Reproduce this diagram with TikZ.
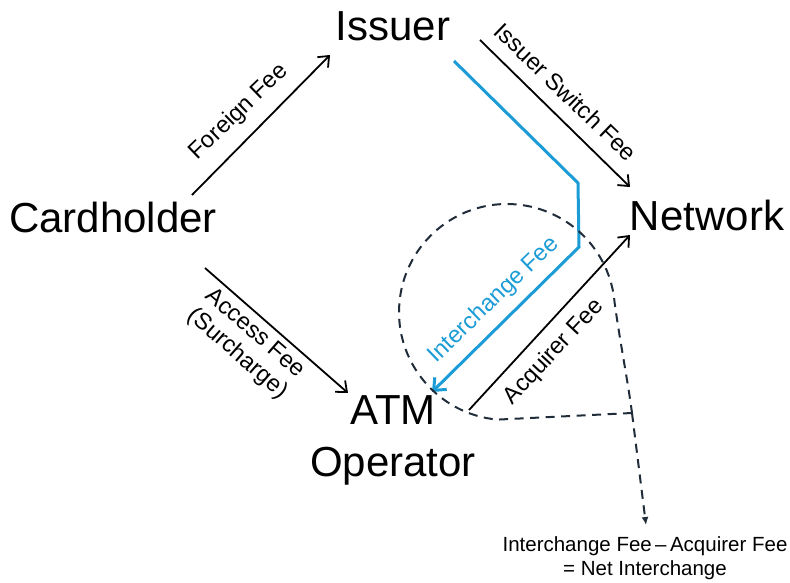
\documentclass[tikz,border=0pt]{standalone}
\usepackage{fontspec}
\setmainfont{Liberation Sans}
\usetikzlibrary{arrows.meta}
\definecolor{ifblue}{RGB}{28,156,214}
\definecolor{dashcol}{RGB}{32,44,58}
\begin{document}
\begin{tikzpicture}[x=1pt,y=1pt,
  big/.style={font=\fontsize{42}{46}\selectfont, inner sep=0pt},
  lbl/.style={font=\fontsize{23.5}{26}\selectfont, inner sep=0pt},
  fee/.style={line width=1.8pt, -{Straight Barb[length=9pt,width=15pt,line width=1.8pt]}},
  bluefee/.style={line width=3pt, color=ifblue, line join=miter, -{Straight Barb[length=10pt,width=17pt,line width=3pt]}},
  dsh/.style={line width=2pt, color=dashcol, dash pattern=on 9pt off 6.5pt}
]
\useasboundingbox (0,0) rectangle (790,582);
% main parties
\node[big] (issuer) at (393,556) {Issuer};
\node[big] (card) at (113,365) {Cardholder};
\node[big] (net) at (707,367) {Network};
\node[big, align=center, font=\fontsize{42}{52}\selectfont] (atm) at (393,142) {ATM\\Operator};
% anchor coordinates for connectors
\coordinate (fA) at (192,387);
\coordinate (fB) at (330,527);
\coordinate (sA) at (480,542);
\coordinate (sB) at (630,395);
\coordinate (aA) at (205,314);
\coordinate (aB) at (348,189);
\coordinate (qA) at (469,172);
\coordinate (qB) at (630,347);
\coordinate (b1) at (454,521);
\coordinate (b2) at (578,399);
\coordinate (b3) at (579,335);
\coordinate (b4) at (432,190);
\coordinate (corner) at (632,169);
\coordinate (cb) at (497.6,162.4);
\coordinate (res) at (646,57);
% arrows
\draw[fee] (fA) -- (fB);
\draw[fee] (sA) -- (sB);
\draw[fee] (aA) -- (aB);
\draw[fee] (qA) -- (qB);
\draw[bluefee] (b1) -- (b2) -- (b3) -- (b4);
% labels
\node[lbl, rotate=44] (lf) at (239,470) {Foreign Fee};
\node[lbl, rotate=-44] (ls) at (566,490) {Issuer Switch Fee};
\node[lbl, rotate=-41, align=center, font=\fontsize{23.5}{27}\selectfont] (la) at (246,238) {Access Fee\\(Surcharge)};
\node[lbl, rotate=44, text=ifblue] (li) at (494,282) {Interchange Fee};
\node[lbl, rotate=47] (lq) at (554,230) {Acquirer Fee};
% dashed callout
\draw[dsh] (corner) -- (cb) arc[start angle=265, end angle=5, radius=108]
  .. controls (620,240) and (628,200) .. (corner);
\draw[dsh, -{Latex[length=8pt,width=7pt]}] (corner) -- (res);
\node[font=\fontsize{20.5}{24}\selectfont, align=center, inner sep=0pt] (net2) at (645,24)
  {Interchange Fee\,--\,Acquirer Fee\\= Net Interchange};
\end{tikzpicture}
\end{document}
